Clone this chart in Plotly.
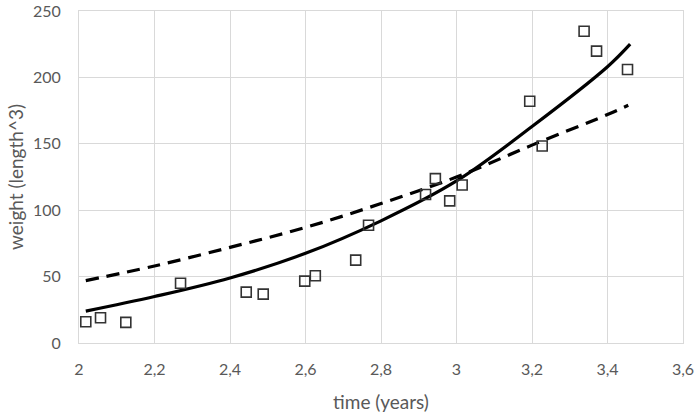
import plotly.graph_objects as go

# observed data points
time_years = [2.018, 2.057, 2.124, 2.269, 2.443, 2.488, 2.598, 2.626, 2.733, 2.767,
              2.918, 2.944, 2.982, 3.015, 3.194, 3.227, 3.338, 3.371, 3.453]
weight = [16, 19, 15.5, 45, 38.3, 36.8, 46.6, 50.6, 62.4, 88.7,
          111.8, 123.8, 107, 119, 182, 148.3, 234.8, 219.8, 206]

# solid fitted curve
solid_x = [2.018, 2.2, 2.4, 2.6, 2.8, 3.0, 3.2, 3.4, 3.46]
solid_y = [24, 35, 49, 67.5, 92, 122, 163, 208, 225]

# dashed fitted curve
dash_x = [2.018, 2.2, 2.4, 2.6, 2.8, 3.0, 3.2, 3.4, 3.455]
dash_y = [47, 58, 72, 87, 105, 125, 149, 172, 179]

x_tickvals = [2, 2.2, 2.4, 2.6, 2.8, 3, 3.2, 3.4, 3.6]
x_ticktext = ["2", "2,2", "2,4", "2,6", "2,8", "3", "3,2", "3,4", "3,6"]
y_tickvals = [0, 50, 100, 150, 200, 250]

FONT = "Lato, 'Open Sans', sans-serif"
GRAY = "#595959"

fig = go.Figure()
fig.add_trace(go.Scatter(x=dash_x, y=dash_y, mode="lines", line_shape="spline",
                         line=dict(color="black", width=3.2, dash="13px,8px"),
                         showlegend=False, hoverinfo="skip"))
fig.add_trace(go.Scatter(x=solid_x, y=solid_y, mode="lines", line_shape="spline",
                         line=dict(color="black", width=3.2),
                         showlegend=False, hoverinfo="skip"))
fig.add_trace(go.Scatter(x=time_years, y=weight, mode="markers",
                         marker=dict(symbol="square-open", size=10,
                                     color="#333333", line=dict(width=1.6, color="#333333")),
                         showlegend=False))

fig.update_layout(
    width=696, height=413,
    margin=dict(l=79, r=13, t=11, b=70, autoexpand=False),
    paper_bgcolor="white", plot_bgcolor="white",
    font=dict(family=FONT, color=GRAY, size=16),
    xaxis=dict(range=[2, 3.6], tickvals=x_tickvals, ticktext=x_ticktext,
               automargin=False,
               showgrid=True, gridcolor="#d9d9d9", gridwidth=1,
               zeroline=False, showline=True, linecolor="#d9d9d9", mirror=True,
               ticks="", ticklabelstandoff=12,
               tickfont=dict(size=16, color=GRAY),
               title=dict(text="time (years)", font=dict(size=19, color=GRAY), standoff=18)),
    yaxis=dict(range=[0, 250], tickvals=y_tickvals,
               automargin=False,
               showgrid=True, gridcolor="#d9d9d9", gridwidth=1,
               zeroline=False, showline=True, linecolor="#d9d9d9", mirror=True,
               ticks="", ticklabelstandoff=14,
               tickfont=dict(size=16, color=GRAY),
               title=dict(text="weight (length^3)", font=dict(size=19, color=GRAY), standoff=4)),
)

fig.write_html("out.html", config={"displayModeBar": False},
               post_script="document.body.style.margin='0';")
